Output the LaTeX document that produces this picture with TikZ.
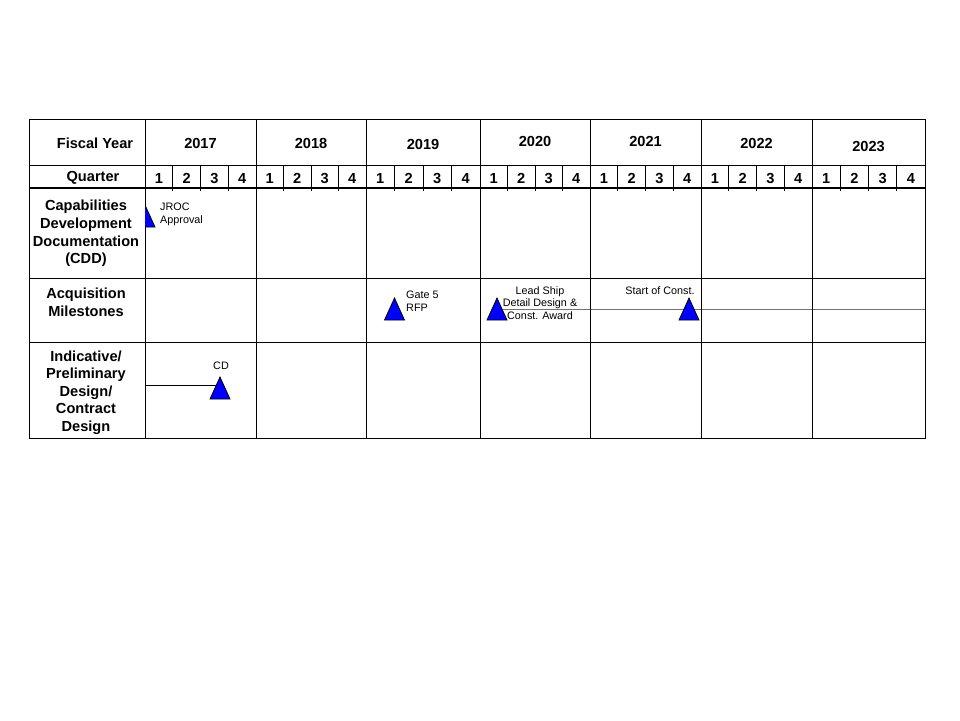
\documentclass[tikz,border=0pt]{standalone}
\usepackage{fontspec}
\setmainfont{Liberation Sans}
\usetikzlibrary{shapes.geometric}
\pgfdeclarelayer{bg}
\pgfsetlayers{bg,main}

\begin{document}
\begin{tikzpicture}[x=1pt, y=-1pt,
    hdr/.style={font=\fontsize{14.6}{17.6}\selectfont\bfseries, align=center, inner sep=0pt},
    small/.style={font=\fontsize{10.8}{12.8}\selectfont, inner sep=0pt},
    ms/.style={isosceles triangle, isosceles triangle stretches, shape border rotate=90,
               minimum width=20pt, minimum height=22pt, inner sep=0pt,
               draw=black, line width=0.8pt, fill=blue, anchor=apex},
    gline/.style={line width=1pt},
    track/.style={line width=1pt, black!55}
  ]
  \useasboundingbox (0,0) rectangle (960,720);

  % frame and row rules
  \draw[gline] (29,119) rectangle (925,438);
  \draw[gline] (29,165) -- (925,165);
  \draw[line width=2pt] (29,188) -- (925,188);
  \draw[gline] (29,278) -- (925,278);
  \draw[gline] (29,342) -- (925,342);
  \draw[gline] (145,119) -- (145,438);

  % years and quarters
  \foreach \xa/\xb/\yr/\ty in {145/256/2017/143, 256/366/2018/143, 366/480/2019/144,
                               480/590/2020/141, 590/701/2021/141, 701/812/2022/143,
                               812/925/2023/146} {
    \draw[gline] (\xb,119) -- (\xb,438);
    \node[hdr] (y\yr) at ({(\xa+\xb)/2},\ty) {\yr};
    \foreach \q in {1,2,3}
      \draw[gline] ({\xa+\q*(\xb-\xa)/4},165) -- ({\xa+\q*(\xb-\xa)/4},191);
    \foreach \q in {1,...,4}
      \node[hdr] (q\yr-\q) at ({\xa+(\q-0.5)*(\xb-\xa)/4},178) {\q};
  }

  % row titles
  \node[hdr] (fy) at (95,143) {Fiscal Year};
  \node[hdr] (qt) at (93,178) {Quarter};
  \node[hdr] (cdd) at (86,233.5) {Capabilities\\Development\\Documentation\\(CDD)};
  \node[hdr] (acq) at (86,302.5) {Acquisition\\Milestones};
  \node[hdr] (ind) at (86,392.5) {Indicative/\\Preliminary\\Design/\\Contract\\Design};

  % milestones
  \begin{scope}
    \clip (145,190) rectangle (256,276);
    \node[ms] (jroc) at (145,204) {};
  \end{scope}
  \node[small, anchor=west, align=left] (jrocl) at (160,214) {JROC\\Approval};

  \node[ms] (gate) at (394.5,297) {};
  \node[small, anchor=west, align=left] (gatel) at (406,301) {Gate 5\\RFP};

  \coordinate (trk) at (0,309.5);
  \coordinate (endA) at (926,309.5);
  \node[ms] (ls) at (497,297) {};
  \node[ms] (sc) at (689,297) {};
  \begin{pgfonlayer}{bg}
    \draw[track] (ls.center |- trk) -- (endA);
  \end{pgfonlayer}
  \node[small, align=center] (lsl) at (540,303) {Lead Ship\\Detail Design \&\\Const. Award};
  \node[small] (scl) at (660,291) {Start of Const.};

  \coordinate (cdA) at (145,385);
  \node[ms] (cd) at (220,376) {};
  \begin{pgfonlayer}{bg}
    \draw[gline] (cdA) -- (cd.center |- cdA);
  \end{pgfonlayer}
  \node[small] (cdl) at (221,366) {CD};
\end{tikzpicture}
\end{document}
